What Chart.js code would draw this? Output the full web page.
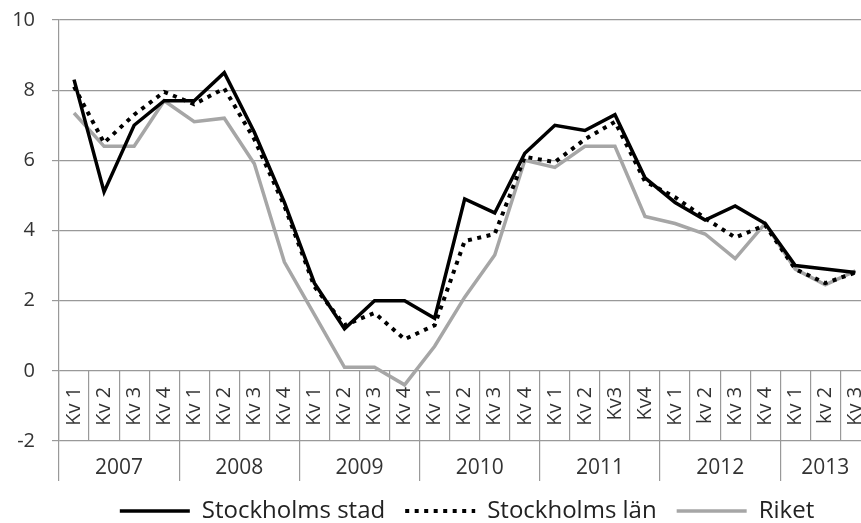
<!DOCTYPE html>
<html>
<head>
<meta charset="utf-8">
<script src="https://cdn.jsdelivr.net/npm/chart.js@4.4.1/dist/chart.umd.min.js"></script>
<style>
  html, body { margin: 0; padding: 0; overflow: hidden; background: #fff; }
  #wrap { width: 934px; height: 533px; }
</style>
</head>
<body>
<div id="wrap"><canvas id="chart" width="934" height="533"></canvas></div>
<script>
// quarter labels, as written in the original (2011 and 2012/2013 differ a bit)
const quarterLabels = [
  'Kv 1', 'Kv 2', 'Kv 3', 'Kv 4',
  'Kv 1', 'Kv 2', 'Kv 3', 'Kv 4',
  'Kv 1', 'Kv 2', 'Kv 3', 'Kv 4',
  'Kv 1', 'Kv 2', 'Kv 3', 'Kv 4',
  'Kv 1', 'Kv 2', 'Kv3', 'Kv4',
  'Kv 1', 'kv 2', 'Kv 3', 'Kv 4',
  'Kv 1', 'kv 2', 'Kv 3'
];
const years = ['2007', '2008', '2009', '2010', '2011', '2012', '2013'];
const quartersPerYear = [4, 4, 4, 4, 4, 4, 3];

const stockholmsStad = [8.3, 5.1, 7.0, 7.7, 7.7, 8.5, 6.8, 4.8, 2.5, 1.2, 2.0, 2.0,
  1.5, 4.9, 4.5, 6.2, 7.0, 6.85, 7.3, 5.5, 4.8, 4.3, 4.7, 4.2, 3.0, 2.9, 2.8];
const stockholmsLan = [8.1, 6.5, 7.3, 7.95, 7.6, 8.05, 6.6, 4.7, 2.4, 1.3, 1.65, 0.9,
  1.3, 3.7, 3.9, 6.1, 5.95, 6.6, 7.1, 5.4, 4.95, 4.35, 3.8, 4.15, 2.9, 2.5, 2.8];
const riket = [7.35, 6.4, 6.4, 7.7, 7.1, 7.2, 5.9, 3.1, 1.6, 0.1, 0.1, -0.4,
  0.7, 2.1, 3.3, 6.0, 5.8, 6.4, 6.4, 4.4, 4.2, 3.9, 3.2, 4.2, 2.9, 2.45, 2.85];

// year group centres and boundaries, in category units
const yearCenters = [];
const yearBounds = [-0.5];
let start = -0.5;
quartersPerYear.forEach(n => {
  yearCenters.push(start + n / 2);
  start += n;
  yearBounds.push(start);
});

const gridGray = '#999999';
const textGray = '#333333';
const fontName = "'Open Sans', sans-serif";

new Chart(document.getElementById('chart'), {
  type: 'line',
  data: {
    labels: quarterLabels,
    datasets: [
      { label: 'Stockholms stad', data: stockholmsStad, borderColor: '#000', backgroundColor: '#000',
        borderWidth: 3.5, pointRadius: 0, tension: 0 },
      { label: 'Stockholms län', data: stockholmsLan, borderColor: '#000', backgroundColor: '#000',
        borderWidth: 4, borderDash: [4, 5.5], pointRadius: 0, tension: 0 },
      { label: 'Riket', data: riket, borderColor: '#a6a6a6', backgroundColor: '#a6a6a6',
        borderWidth: 3.5, pointRadius: 0, tension: 0 }
    ]
  },
  options: {
    responsive: false,
    animation: false,
    layout: { padding: { top: 20, left: 0, right: 0, bottom: 0 } },
    plugins: {
      tooltip: { enabled: false },
      legend: {
        position: 'bottom',
        labels: {
          usePointStyle: true,
          pointStyle: 'line',
          pointStyleWidth: 70,
          padding: 20,
          color: '#222',
          font: { family: fontName, size: 24 },
          // point style drops the dash, so put it back from the dataset
          generateLabels: chart => Chart.defaults.plugins.legend.labels.generateLabels(chart).map(item => {
            const ds = chart.data.datasets[item.datasetIndex];
            item.lineDash = ds.borderDash || [];
            item.lineWidth = ds.borderWidth;
            item.strokeStyle = ds.borderColor;
            return item;
          })
        }
      }
    },
    scales: {
      x: {
        type: 'category',
        position: { y: 0 },
        offset: true,
        border: { display: false },
        grid: { offset: true, drawOnChartArea: false, drawTicks: true, tickLength: 70, color: gridGray, lineWidth: 1.2 },
        ticks: { minRotation: 90, maxRotation: 90, autoSkip: false, padding: -54, color: textGray,
          font: { family: fontName, size: 20 } }
      },
      yearSep: {
        axis: 'x',
        type: 'linear',
        position: { y: -2 },
        min: -0.5, max: 26.5,
        border: { display: false },
        grid: { drawOnChartArea: false, drawTicks: true, tickLength: 40, color: gridGray, lineWidth: 1.2 },
        ticks: { display: false },
        afterBuildTicks: axis => { axis.ticks = yearBounds.map(v => ({ value: v })); }
      },
      years: {
        axis: 'x',
        type: 'linear',
        position: 'bottom',
        min: -0.5, max: 26.5,
        border: { display: false },
        grid: { display: false },
        ticks: { autoSkip: false, maxRotation: 0, padding: 6, color: textGray,
          font: { family: fontName, size: 21 },
          callback: (value, index) => years[index] },
        afterBuildTicks: axis => { axis.ticks = yearCenters.map(v => ({ value: v })); },
        afterFit: axis => { axis.height = 38; }
      },
      y: {
        min: -2, max: 10,
        border: { color: gridGray, width: 1.2 },
        grid: { color: gridGray, lineWidth: 1.2, tickLength: 7 },
        ticks: { stepSize: 2, padding: 17, color: textGray, font: { family: fontName, size: 20 } },
        afterFit: axis => { axis.width = 59; axis.paddingTop = 0; }
      },
      y2: {
        position: 'right',
        border: { display: false },
        grid: { display: false },
        ticks: { display: false },
        afterFit: axis => { axis.width = 934 - 870.4; }
      }
    }
  }
});
</script>
</body>
</html>
